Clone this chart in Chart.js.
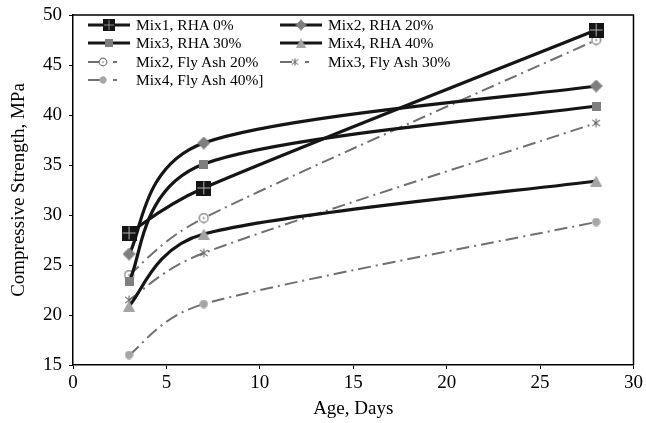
<!DOCTYPE html>
<html><head><meta charset="utf-8">
<script src="https://cdn.jsdelivr.net/npm/chart.js@4.4.0/dist/chart.umd.min.js"></script>
<style>
html,body{margin:0;padding:0;background:#fff;}
#wrap{position:relative;width:646px;height:423px;}
#c{position:absolute;left:0;top:0;}
#legend{position:absolute;left:0;top:0;font-family:'Liberation Serif','Times New Roman',serif;font-size:15.5px;color:#000;}
.item{position:absolute;height:18px;line-height:18px;white-space:nowrap;display:flex;align-items:center;}
.item canvas{display:block;margin-right:3px;}
</style></head><body>
<div id="wrap"><canvas id="c" width="646" height="423"></canvas><div id="legend"></div></div>
<script>
// ---- data ----
const ages = [3, 7, 28];
const seriesNames = ['Mix1, RHA 0%', 'Mix2, RHA 20%', 'Mix3, RHA 30%', 'Mix4, RHA 40%',
                     'Mix2, Fly Ash 20%', 'Mix3, Fly Ash 30%', 'Mix4, Fly Ash 40%]'];
const mix1Rha0  = [28.2, 32.7, 48.5];
const mix2Rha20 = [26.1, 37.2, 42.9];
const mix3Rha30 = [23.4, 35.1, 40.9];
const mix4Rha40 = [20.9, 28.1, 33.4];
const mix2Fa20  = [24.0, 29.7, 47.5];
const mix3Fa30  = [21.5, 26.2, 39.2];
const mix4Fa40  = [16.0, 21.1, 29.3];
const xTickRange = {min: 0, max: 30, step: 5};
const yTickRange = {min: 15, max: 50, step: 5};
const xTitle = 'Age, Days';
const yTitle = 'Compressive Strength, MPa';

// ---- marker images ----
function mk(w, h, draw) {
  const c = document.createElement('canvas');
  c.width = w; c.height = h;
  draw(c.getContext('2d'), w, h);
  return c;
}
const markers = {
  plusSquare: mk(15, 15, (g, w, h) => {
    g.fillStyle = '#141414'; g.fillRect(0, 0, w, h);
    g.strokeStyle = '#b0b0b0'; g.lineWidth = 1;
    g.beginPath(); g.moveTo(7.5, 1); g.lineTo(7.5, 14); g.moveTo(1, 7.5); g.lineTo(14, 7.5); g.stroke();
  }),
  diamond: mk(13, 13, (g) => {
    g.fillStyle = '#7f7f7f'; g.beginPath();
    g.moveTo(6.5, 0); g.lineTo(13, 6.5); g.lineTo(6.5, 13); g.lineTo(0, 6.5); g.closePath(); g.fill();
  }),
  square: mk(9, 9, (g, w, h) => { g.fillStyle = '#7f7f7f'; g.fillRect(0, 0, w, h); }),
  triangle: mk(12, 11, (g) => {
    g.fillStyle = '#a5a5a5'; g.beginPath();
    g.moveTo(6, 0); g.lineTo(12, 11); g.lineTo(0, 11); g.closePath(); g.fill();
  }),
  circleDot: mk(11, 11, (g) => {
    g.fillStyle = '#fff'; g.strokeStyle = '#6a6a6a'; g.lineWidth = 1.1;
    g.beginPath(); g.arc(5.5, 5.5, 4.4, 0, Math.PI * 2); g.fill(); g.stroke();
    g.fillStyle = '#6a6a6a'; g.beginPath(); g.arc(5.5, 5.5, 0.9, 0, Math.PI * 2); g.fill();
  }),
  asterisk: mk(10, 10, (g) => {
    g.strokeStyle = '#6a6a6a'; g.lineWidth = 1.1; g.beginPath();
    g.moveTo(5, 0.5); g.lineTo(5, 9.5);
    g.moveTo(1.2, 1.8); g.lineTo(8.8, 8.2);
    g.moveTo(8.8, 1.8); g.lineTo(1.2, 8.2);
    g.stroke();
  }),
  dot: mk(9, 9, (g) => {
    g.fillStyle = '#a5a5a5'; g.beginPath(); g.arc(4.5, 4.5, 4.2, 0, Math.PI * 2); g.fill();
  })
};

const RHA = {color: '#151515', width: 3.2, dash: []};
const FA = {color: '#707070', width: 2, dash: [13, 5, 2, 5]};
const seriesValues = [mix1Rha0, mix2Rha20, mix3Rha30, mix4Rha40, mix2Fa20, mix3Fa30, mix4Fa40];
const seriesLine = [RHA, RHA, RHA, RHA, FA, FA, FA];
const seriesMarker = ['plusSquare', 'diamond', 'square', 'triangle', 'circleDot', 'asterisk', 'dot'];

const datasets = seriesNames.map((name, i) => ({
  label: name,
  data: ages.map((a, j) => ({x: a, y: seriesValues[i][j]})),
  borderColor: seriesLine[i].color,
  borderWidth: seriesLine[i].width,
  borderDash: seriesLine[i].dash,
  pointStyle: markers[seriesMarker[i]],
  pointRadius: 6,
  pointHoverRadius: 6,
  tension: 0.4,
  fill: false
}));

// Excel-like smoothing of the line through the chart's own point positions
const excelSmooth = {
  id: 'excelSmooth',
  beforeDatasetsDraw(chart) {
    chart.data.datasets.forEach((ds, di) => {
      const meta = chart.getDatasetMeta(di);
      const pts = meta.data, n = pts.length;
      const P = i => pts[Math.max(0, Math.min(n - 1, i))];
      const dist = (a, b) => Math.hypot(a.x - b.x, a.y - b.y);
      for (let i = 0; i < n - 1; i++) {
        const p0 = P(i - 1), p1 = P(i), p2 = P(i + 1), p3 = P(i + 2);
        const d12 = dist(p1, p2), d02 = dist(p0, p2), d13 = dist(p1, p3);
        let f0 = 1 / 6, f1 = 1 / 6;
        if (d02 / 6 >= d12 / 2) f0 = d12 / d02 / 2;
        if (d13 / 6 >= d12 / 2) f1 = d12 / d13 / 2;
        p1.cp2x = p1.x + (p2.x - p0.x) * f0; p1.cp2y = p1.y + (p2.y - p0.y) * f0;
        p2.cp1x = p2.x - (p3.x - p1.x) * f1; p2.cp1y = p2.y - (p3.y - p1.y) * f1;
      }
      if (meta.dataset) meta.dataset._pointsUpdated = true;
    });
  }
};
const frame = {
  id: 'frame',
  beforeDatasetsDraw(chart) {
    const {ctx, chartArea: a} = chart;
    ctx.save(); ctx.strokeStyle = '#000'; ctx.lineWidth = 1.5;
    ctx.beginPath();
    ctx.moveTo(a.left, a.top); ctx.lineTo(a.right, a.top); ctx.lineTo(a.right, a.bottom);
    ctx.stroke(); ctx.restore();
  }
};

const font = {family: "'Liberation Serif', 'Times New Roman', serif", size: 19};
const yTickFont = {family: "'Liberation Serif', 'Times New Roman', serif", size: 19, lineHeight: 0.8};
new Chart(document.getElementById('c'), {
  type: 'line',
  data: {datasets},
  plugins: [excelSmooth, frame],
  options: {
    responsive: false,
    animation: false,
    events: [],
    layout: {padding: {top: 15, right: 12, left: 0, bottom: 0}},
    plugins: {legend: {display: false}, tooltip: {enabled: false}},
    scales: {
      x: {
        type: 'linear', min: xTickRange.min, max: xTickRange.max,
        ticks: {stepSize: xTickRange.step, color: '#000', font, padding: 3, maxRotation: 0},
        grid: {display: true, drawOnChartArea: false, drawTicks: true, tickLength: 4, color: '#000', lineWidth: 1},
        border: {display: true, color: '#000', width: 1.5},
        title: {display: true, text: xTitle, color: '#000', font, padding: {top: 0, bottom: 3}},
        afterFit: s => { s.height = 58; }
      },
      y: {
        type: 'linear', min: yTickRange.min, max: yTickRange.max,
        ticks: {stepSize: yTickRange.step, color: '#000', font: yTickFont, padding: 7},
        grid: {display: true, drawOnChartArea: false, drawTicks: true, tickLength: 4, color: '#000', lineWidth: 1},
        border: {display: true, color: '#000', width: 1.5},
        title: {display: true, text: yTitle, color: '#000', font, padding: {top: 8, bottom: 0}},
        afterFit: s => { s.width = 73; }
      }
    }
  }
});

// ---- legend (HTML text, two columns) ----
const legendCols = [88, 280];
const legendRow0 = 25, legendRowStep = 18.4;
const legend = document.getElementById('legend');
datasets.forEach((ds, i) => {
  const col = i % 2, row = Math.floor(i / 2);
  const item = document.createElement('div');
  item.className = 'item';
  item.style.left = legendCols[col] + 'px';
  item.style.top = (legendRow0 + row * legendRowStep - 9) + 'px';
  const c = document.createElement('canvas');
  c.width = 45; c.height = 18;
  const g = c.getContext('2d');
  const ln = seriesLine[i], m = markers[seriesMarker[i]];
  g.strokeStyle = ln.color; g.lineWidth = ln.width;
  const sc = seriesMarker[i] === 'plusSquare' ? 0.8 : 0.85;
  if (ln === RHA) {
    g.beginPath(); g.moveTo(0, 9); g.lineTo(42, 9); g.stroke();
    g.drawImage(m, 21 - m.width * sc / 2, 9 - m.height * sc / 2, m.width * sc, m.height * sc);
  } else {
    g.beginPath(); g.moveTo(0, 9); g.lineTo(12, 9); g.moveTo(25, 9); g.lineTo(29, 9); g.stroke();
    g.drawImage(m, 15 - m.width * sc / 2, 9 - m.height * sc / 2, m.width * sc, m.height * sc);
  }
  item.appendChild(c);
  const t = document.createElement('span');
  t.textContent = ds.label;
  item.appendChild(t);
  legend.appendChild(item);
});
</script>
</body></html>
